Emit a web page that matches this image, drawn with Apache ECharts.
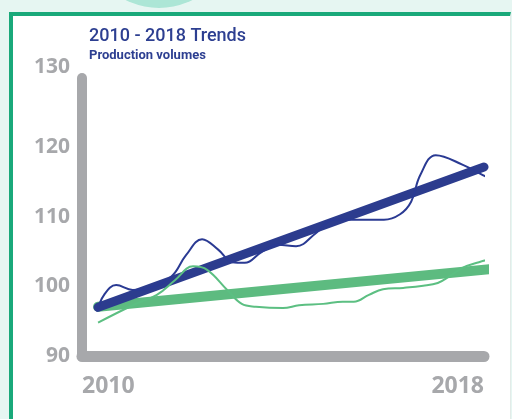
<!DOCTYPE html>
<html>
<head>
<meta charset="utf-8">
<script src="https://cdn.jsdelivr.net/npm/echarts@6/dist/echarts.min.js"></script>
<style>
  html, body { margin: 0; padding: 0; }
  body { width: 512px; height: 419px; background: #e6f6f2; position: relative; overflow: hidden; }
  #bubble { position: absolute; left: 85px; top: -140px; width: 148px; height: 148px; border-radius: 50%; background: #ace6d6; }
  #card { position: absolute; left: 9px; top: 12px; width: 497px; height: 430px; background: #fff;
          border-left: 4px solid #19a97a; border-top: 4px solid #19a97a; border-right: 1px solid #e3ebe8; }
  #chart { position: absolute; left: 0; top: 0; width: 512px; height: 419px; }
</style>
</head>
<body>
<div id="bubble"></div>
<div id="card"></div>
<div id="chart"></div>
<script>
  // axis ticks
  const yTicks = [90, 100, 110, 120, 130];
  const xTicks = [2010, 2018];

  // straight trend lines [year, value]
  const blueTrend = [[2010.32, 97.0], [2018.0, 117.2]];
  const greenTrend = [[2010.32, 97.1], [2018.12, 102.5]];

  const blueActual = [
    [2010.30, 96.4], [2010.44, 98.8], [2010.68, 100.2], [2011.01, 99.5],
    [2011.39, 99.9], [2011.79, 101.5], [2012.07, 104.5], [2012.39, 106.8],
    [2012.71, 105.3], [2012.99, 103.5], [2013.24, 103.4], [2013.58, 105.0],
    [2013.90, 106.0], [2014.26, 105.8], [2014.66, 107.7], [2015.00, 109.6],
    [2015.50, 109.6], [2016.01, 109.6], [2016.33, 110.4], [2016.55, 112.2],
    [2016.73, 116.0], [2017.04, 118.9], [2017.58, 117.5], [2018.04, 115.8],
    [2018.20, 115.2]
  ];
  const greenActual = [
    [2010.32, 94.8], [2011.01, 97.3], [2011.49, 98.8], [2011.85, 100.9],
    [2012.21, 102.9], [2012.49, 102.4], [2012.89, 99.5], [2013.18, 97.5],
    [2013.46, 97.1], [2014.00, 96.9], [2014.32, 97.3], [2014.80, 97.5],
    [2015.19, 97.8], [2015.41, 97.8], [2015.71, 98.8], [2015.99, 99.6],
    [2016.39, 99.8], [2016.79, 100.1], [2017.08, 100.5], [2017.30, 101.4],
    [2017.58, 102.7], [2017.90, 103.5], [2018.20, 104.1]
  ];

  const blue = "#2c3c8e";
  const green = "#5dbb80";
  const gray = "#a7a8ab";

  const chart = echarts.init(document.getElementById("chart"));

  chart.setOption({
    animation: false,
    backgroundColor: "transparent",
    title: {
      text: "2010 - 2018 Trends",
      subtext: "Production volumes",
      left: 89,
      top: 27,
      itemGap: 4,
      padding: 0,
      textStyle: { fontFamily: "Roboto", fontWeight: 500, fontSize: 18, color: "#2d3f91" },
      subtextStyle: { fontFamily: "Roboto", fontWeight: "bold", fontSize: 13, color: "#2d3f91" }
    },
    grid: { left: 82, right: 28, top: 78, bottom: 63, outerBoundsMode: "none" },
    xAxis: {
      type: "value",
      min: xTicks[0],
      max: xTicks[xTicks.length - 1],
      splitLine: { show: false },
      axisTick: { show: false },
      axisLine: { onZero: false, lineStyle: { color: gray, width: 11, cap: "round" } },
      axisLabel: {
        customValues: xTicks,
        formatter: (v) => String(v),
        margin: 19,
        alignMinLabel: "left",
        alignMaxLabel: "right",
        fontFamily: "Open Sans",
        fontWeight: "bold",
        fontSize: 23,
        color: gray
      }
    },
    yAxis: {
      type: "value",
      min: yTicks[0],
      max: yTicks[yTicks.length - 1],
      interval: 10,
      splitLine: { show: false },
      axisTick: { show: false },
      axisLine: { show: true, onZero: false, lineStyle: { color: gray, width: 10, cap: "round" } },
      axisLabel: {
        margin: 12,
        verticalAlignMaxLabel: "bottom",
        fontFamily: "Open Sans",
        fontWeight: "bold",
        fontSize: 21,
        color: gray
      }
    },
    series: [
      {
        type: "line", data: greenTrend, symbol: "none", clip: false, z: 2,
        lineStyle: { color: green, width: 10, cap: "round" }
      },
      {
        type: "line", data: blueTrend, symbol: "none", clip: false, z: 3,
        lineStyle: { color: blue, width: 9, cap: "round" }
      },
      {
        type: "line", data: blueActual, symbol: "none", smooth: 0.4, clip: false, z: 4,
        lineStyle: { color: "#2a3a93", width: 2 }
      },
      {
        type: "line", data: greenActual, symbol: "none", smooth: 0.4, clip: false, z: 5,
        lineStyle: { color: "#5cbf82", width: 2 }
      }
    ]
  });
</script>
</body>
</html>
